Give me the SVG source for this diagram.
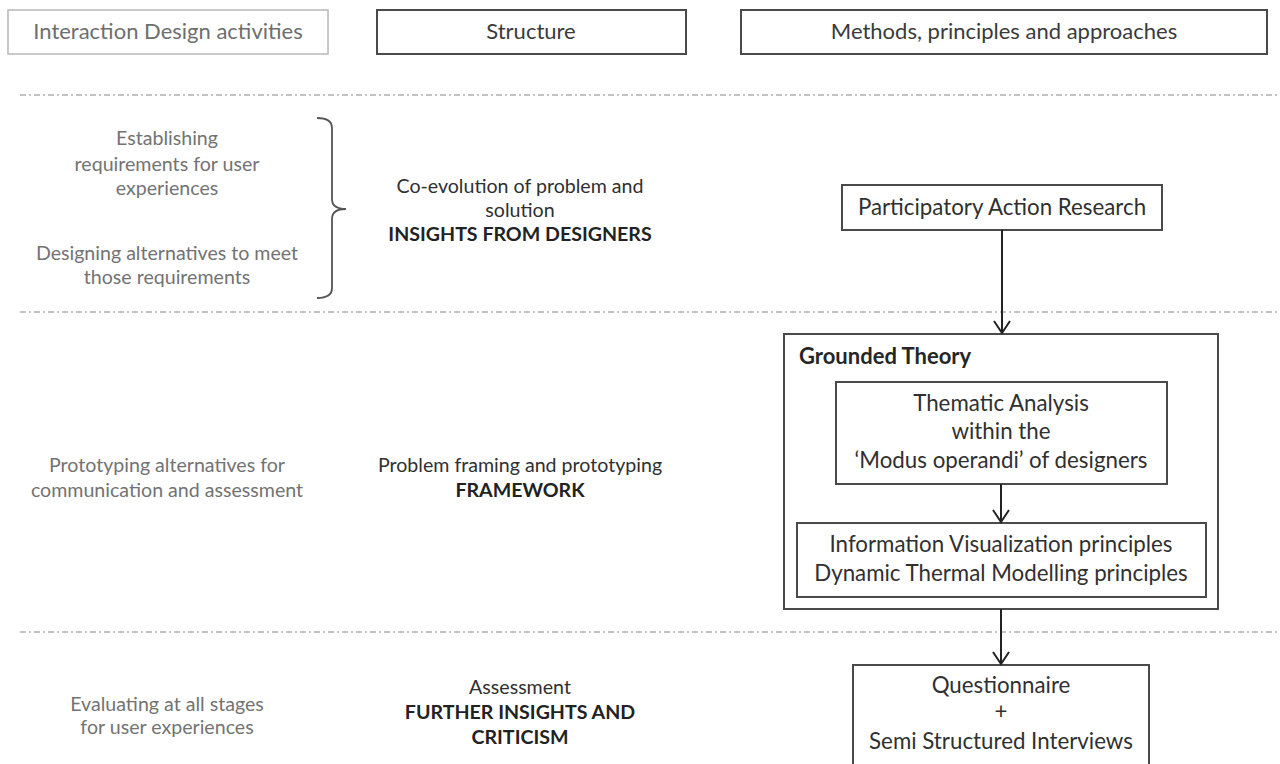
<svg xmlns="http://www.w3.org/2000/svg" width="1280" height="764" viewBox="0 0 1280 764">
<style>
text{font-family:Lato,"Liberation Sans",sans-serif;text-anchor:middle}
.h{font-size:22px;fill:#3a3a3a}
.hl{fill:#6e6e6e}
.l{font-size:19.6px;fill:#737373}
.m{font-size:19.6px;fill:#303030}
.b{font-weight:bold;fill:#222}
.r{font-size:22.3px;fill:#303030}
.gt{font-size:22px;font-weight:bold;fill:#262626;text-anchor:start}
.box{fill:#fff;stroke:#4a4a4a;stroke-width:2}
.boxl{fill:#fff;stroke:#b8b8b8;stroke-width:1.5}
.sep{stroke:#b0b0b0;stroke-width:1.5;stroke-dasharray:6 3 2 3;fill:none}
.conn{stroke:#222;stroke-width:2;fill:none}
.brace{stroke:#555;stroke-width:1.8;fill:none}
</style>
<defs>
<marker id="ah" markerUnits="userSpaceOnUse" markerWidth="16" markerHeight="18" refX="12" refY="8" orient="auto" overflow="visible">
<path d="M0,0 L12,8 L0,16" fill="none" stroke="#222" stroke-width="2"/>
</marker>
</defs>

<g id="separators">
<line class="sep" x1="20" y1="95" x2="1280" y2="95"/>
<line class="sep" x1="20" y1="312" x2="1280" y2="312"/>
<line class="sep" x1="20" y1="632" x2="1280" y2="632"/>
</g>

<g id="header-activities">
<rect class="boxl" x="8" y="10" width="320" height="44"/>
<text class="h hl" x="168" y="39">Interaction Design activities</text>
</g>
<g id="header-structure">
<rect class="box" x="377" y="10" width="309" height="44"/>
<text class="h" x="531" y="39">Structure</text>
</g>
<g id="header-methods">
<rect class="box" x="741" y="10" width="526" height="44"/>
<text class="h" x="1004" y="39">Methods, principles and approaches</text>
</g>

<g id="activity-1">
<text class="l" x="167" y="145">Establishing</text>
<text class="l" x="167" y="171">requirements for user</text>
<text class="l" x="167" y="195">experiences</text>
<text class="l" x="167" y="260">Designing alternatives to meet</text>
<text class="l" x="167" y="284">those requirements</text>
<path class="brace" d="M317,118 Q332,118 332,128 L332,199 Q332,209 346,209 Q332,209 332,219 L332,288 Q332,298 317,298"/>
</g>
<g id="activity-2">
<text class="l" x="167" y="472">Prototyping alternatives for</text>
<text class="l" x="167" y="497">communication and assessment</text>
</g>
<g id="activity-3">
<text class="l" x="167" y="711">Evaluating at all stages</text>
<text class="l" x="167" y="734">for user experiences</text>
</g>

<g id="structure-1">
<text class="m" x="520" y="193">Co-evolution of problem and</text>
<text class="m" x="520" y="217">solution</text>
<text class="m b" x="520" y="241">INSIGHTS FROM DESIGNERS</text>
</g>
<g id="structure-2">
<text class="m" x="520" y="472">Problem framing and prototyping</text>
<text class="m b" x="520" y="497">FRAMEWORK</text>
</g>
<g id="structure-3">
<text class="m" x="520" y="694">Assessment</text>
<text class="m b" x="520" y="719">FURTHER INSIGHTS AND</text>
<text class="m b" x="520" y="744">CRITICISM</text>
</g>

<g id="par">
<rect class="box" x="842" y="185" width="320" height="45"/>
<text class="r" x="1002" y="215">Participatory Action Research</text>
</g>
<g id="grounded-theory">
<rect class="box" x="784" y="334" width="434" height="275"/>
<text class="gt" x="799" y="364">Grounded Theory</text>
</g>
<g id="thematic-analysis">
<rect class="box" x="836" y="382" width="331" height="102"/>
<text class="r" x="1001" y="411">Thematic Analysis</text>
<text class="r" x="1001" y="439">within the</text>
<text class="r" x="1001" y="468">‘Modus operandi’ of designers</text>
</g>
<g id="principles">
<rect class="box" x="797" y="523" width="409" height="74"/>
<text class="r" x="1001" y="552">Information Visualization principles</text>
<text class="r" x="1001" y="581">Dynamic Thermal Modelling principles</text>
</g>
<g id="questionnaire">
<rect class="box" x="853" y="665" width="296" height="110"/>
<text class="r" x="1001" y="693">Questionnaire</text>
<text class="r" x="1001" y="719">+</text>
<text class="r" x="1001" y="749">Semi Structured Interviews</text>
</g>

<g id="connectors">
<line class="conn" x1="1002" y1="230" x2="1002" y2="333" marker-end="url(#ah)"/>
<line class="conn" x1="1001" y1="484" x2="1001" y2="522" marker-end="url(#ah)"/>
<line class="conn" x1="1001" y1="609" x2="1001" y2="664" marker-end="url(#ah)"/>
</g>
</svg>
